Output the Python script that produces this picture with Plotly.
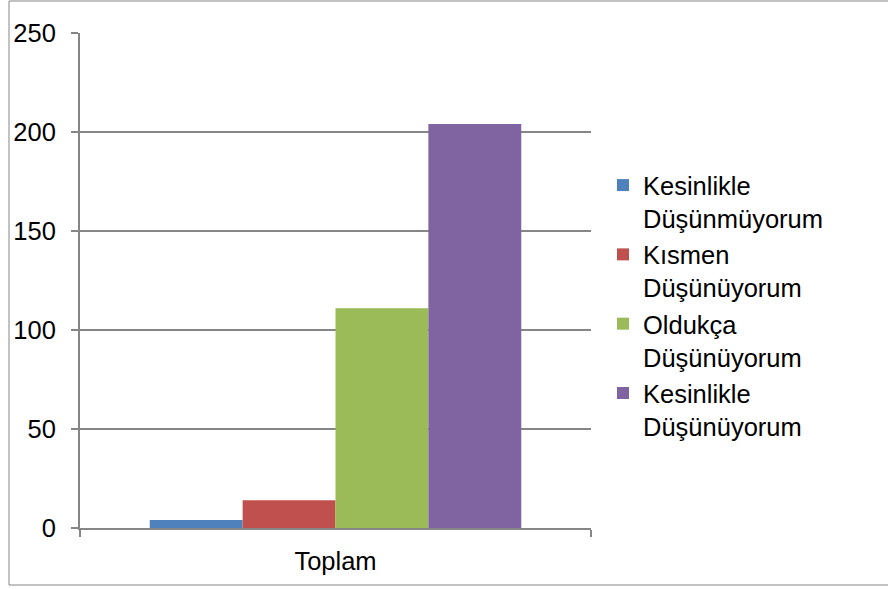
import plotly.graph_objects as go

categories = ["Toplam"]
series_names = [
    "Kesinlikle<br>Düşünmüyorum",
    "Kısmen<br>Düşünüyorum",
    "Oldukça<br>Düşünüyorum",
    "Kesinlikle<br>Düşünüyorum",
]
series_values = [[4], [14], [111], [204]]
series_colors = ["#4F81BD", "#C0504D", "#9BBB59", "#8064A2"]
y_ticks = [0, 50, 100, 150, 200, 250]

W, H = 888, 589
ML, MR, MT, MB = 80, 297, 33, 61
PW, PH = W - ML - MR, H - MT - MB

FONT = "Liberation Sans, Arial, sans-serif"
GRAY = "#868686"

fig = go.Figure()
for name, vals, col in zip(series_names, series_values, series_colors):
    fig.add_trace(go.Bar(x=categories, y=vals, name=name, marker_color=col,
                         marker_line_width=0, legendgroup=name))

def px_x(p):
    return (p - ML) / PW

def px_y(p):
    return (H - MB - p) / PH

fig.add_shape(type="rect", xref="paper", yref="paper",
              x0=px_x(9), x1=px_x(900), y0=px_y(585), y1=px_y(1),
              line=dict(color=GRAY, width=1), fillcolor="rgba(0,0,0,0)", layer="below")

fig.update_layout(
    width=W, height=H,
    margin=dict(l=ML, r=MR, t=MT, b=MB, pad=0, autoexpand=False),
    paper_bgcolor="white", plot_bgcolor="white",
    font=dict(family=FONT, size=25.5, color="black"),
    barmode="group", bargap=0.273, bargroupgap=0,
    showlegend=True,
    legend=dict(x=px_x(603), xanchor="left", y=px_y(162), yanchor="top",
                font=dict(family=FONT, size=25.5, color="black"),
                traceorder="grouped", tracegroupgap=0, valign="top",
                bgcolor="rgba(0,0,0,0)", itemclick=False),
    xaxis=dict(type="category", showgrid=False, showline=True, linecolor=GRAY, linewidth=2,
               ticks="outside", tickson="boundaries", ticklen=7, tickcolor=GRAY, tickwidth=2,
               ticklabelstandoff=9, fixedrange=True, automargin=False),
    yaxis=dict(range=[0, 250], tickvals=y_ticks, showgrid=True, gridcolor=GRAY, gridwidth=1.5,
               showline=True, linecolor=GRAY, linewidth=2, zeroline=False,
               ticks="outside", ticklen=7, tickcolor=GRAY, tickwidth=2,
               ticklabelstandoff=10, fixedrange=True, automargin=False),
)

fig.write_html("out.html")
